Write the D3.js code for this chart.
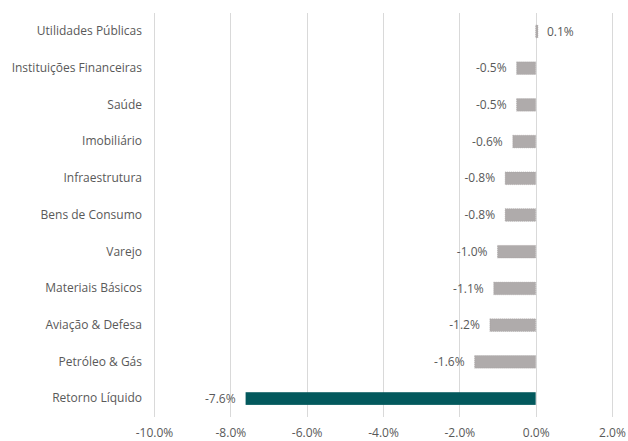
<!DOCTYPE html>
<html>
<head>
<meta charset="utf-8">
<script src="https://cdn.jsdelivr.net/npm/d3@7"></script>
<style>
  body { margin: 0; background: #fff; }
  text { font-family: "Open Sans", "Liberation Sans", Arial, sans-serif; fill: #595959; }
</style>
</head>
<body>
<div id="chart"></div>
<script>
// setores e retornos (%)
const categories = ["Utilidades Públicas", "Instituições Financeiras", "Saúde", "Imobiliário",
    "Infraestrutura", "Bens de Consumo", "Varejo", "Materiais Básicos", "Aviação & Defesa",
    "Petróleo & Gás", "Retorno Líquido"];
const values = [0.06, -0.5, -0.5, -0.6, -0.8, -0.8, -1.0, -1.1, -1.2, -1.6, -7.6];
const tickValues = [-10, -8, -6, -4, -2, 0, 2];

const width = 628, height = 441;
const margin = {top: 13, right: 16, bottom: 24, left: 154};

const data = categories.map((c, i) => ({name: c, value: values[i]}));

const svg = d3.select("#chart").append("svg")
    .attr("width", width)
    .attr("height", height);

const x = d3.scaleLinear()
    .domain([-10, 2])
    .range([margin.left, width - margin.right]);

const y = d3.scaleBand()
    .domain(categories)
    .range([margin.top, height - margin.bottom])
    .paddingInner(0.655)
    .paddingOuter(0.33);

// hífen comum no lugar do sinal de menos
const fmt = d => d3.format(".1f")(d).replace("−", "-") + "%";
const font = "'Open Sans', 'Liberation Sans', Arial, sans-serif";

// linhas de grade
svg.append("g")
    .selectAll("line")
    .data(tickValues)
    .enter().append("line")
    .attr("x1", d => Math.round(x(d)) + 0.5)
    .attr("x2", d => Math.round(x(d)) + 0.5)
    .attr("y1", margin.top)
    .attr("y2", height - margin.bottom)
    .attr("stroke", "#d9d9d9")
    .attr("stroke-width", 1);

// eixo x (só rótulos)
const xAxis = svg.append("g")
    .attr("transform", `translate(0,${height - margin.bottom})`)
    .call(d3.axisBottom(x).tickValues(tickValues).tickFormat(fmt).tickSize(0).tickPadding(11));
xAxis.select(".domain").remove();
xAxis.selectAll("text")
    .style("font-size", "12px")
    .style("font-family", font)
    .attr("fill", "#595959");

// eixo y (categorias)
const yAxis = svg.append("g")
    .attr("transform", `translate(${margin.left - 12},0)`)
    .call(d3.axisLeft(y).tickSize(0).tickPadding(0));
yAxis.select(".domain").remove();
yAxis.selectAll("text")
    .style("font-size", "12px")
    .style("font-family", font)
    .attr("fill", "#595959");

// barras
svg.append("g")
    .selectAll("rect")
    .data(data)
    .enter().append("rect")
    .attr("x", d => x(Math.min(0, d.value)))
    .attr("y", d => y(d.name))
    .attr("width", d => Math.abs(x(d.value) - x(0)))
    .attr("height", y.bandwidth())
    .attr("fill", d => d.name === "Retorno Líquido" ? "#03595d" : "#afabab")
    .attr("stroke", d => d.name === "Retorno Líquido" ? "none" : "#a19d9d")
    .attr("stroke-width", 0.5)
    .attr("stroke-dasharray", "1,1");

// rótulos de valor
svg.append("g")
    .selectAll("text")
    .data(data)
    .enter().append("text")
    .attr("x", d => d.value < 0 ? x(d.value) - 10 : x(d.value) + 9)
    .attr("y", d => y(d.name) + y.bandwidth() / 2)
    .attr("dy", "0.35em")
    .attr("text-anchor", d => d.value < 0 ? "end" : "start")
    .style("font-size", "12px")
    .style("font-family", font)
    .text(d => fmt(d.value));
</script>
</body>
</html>
